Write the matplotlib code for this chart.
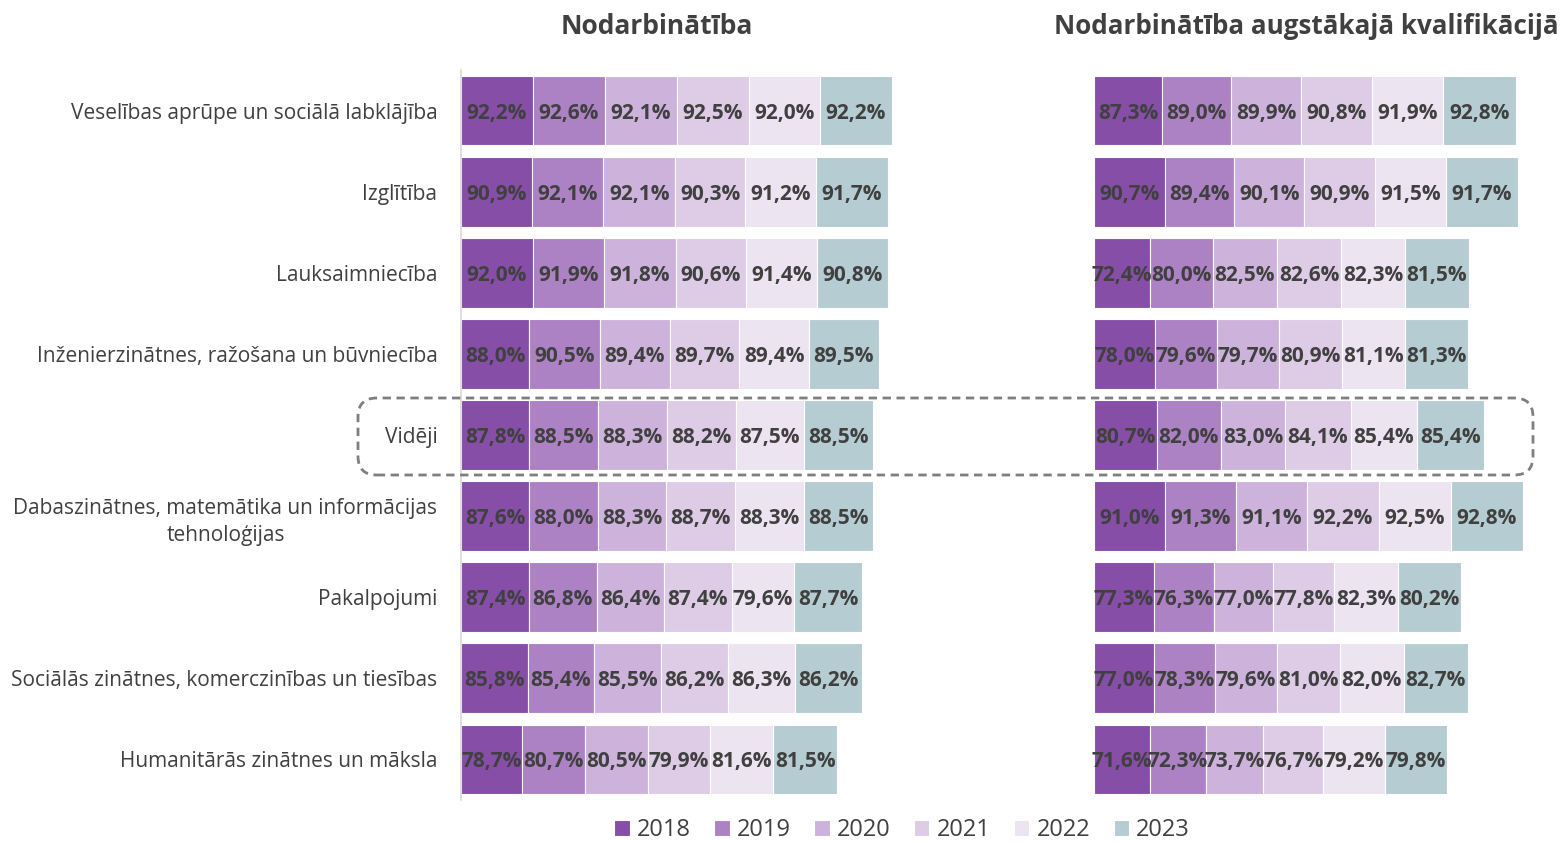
import matplotlib
matplotlib.use("Agg")
import matplotlib.pyplot as plt
from matplotlib.patches import FancyBboxPatch
import numpy as np

plt.rcParams['font.family'] = ['Open Sans', 'DejaVu Sans']

categories = [
    "Veselības aprūpe un sociālā labklājība",
    "Izglītība",
    "Lauksaimniecība",
    "Inženierzinātnes, ražošana un būvniecība",
    "Vidēji",
    "Dabaszinātnes, matemātika un informācijas\ntehnoloģijas",
    "Pakalpojumi",
    "Sociālās zinātnes, komerczinības un tiesības",
    "Humanitārās zinātnes un māksla",
]
years = ["2018", "2019", "2020", "2021", "2022", "2023"]

# Nodarbinātība (rows = categories, cols = years)
employment = [
    [92.2, 92.6, 92.1, 92.5, 92.0, 92.2],
    [90.9, 92.1, 92.1, 90.3, 91.2, 91.7],
    [92.0, 91.9, 91.8, 90.6, 91.4, 90.8],
    [88.0, 90.5, 89.4, 89.7, 89.4, 89.5],
    [87.8, 88.5, 88.3, 88.2, 87.5, 88.5],
    [87.6, 88.0, 88.3, 88.7, 88.3, 88.5],
    [87.4, 86.8, 86.4, 87.4, 79.6, 87.7],
    [85.8, 85.4, 85.5, 86.2, 86.3, 86.2],
    [78.7, 80.7, 80.5, 79.9, 81.6, 81.5],
]
# Nodarbinātība augstākajā kvalifikācijā
employment_hq = [
    [87.3, 89.0, 89.9, 90.8, 91.9, 92.8],
    [90.7, 89.4, 90.1, 90.9, 91.5, 91.7],
    [72.4, 80.0, 82.5, 82.6, 82.3, 81.5],
    [78.0, 79.6, 79.7, 80.9, 81.1, 81.3],
    [80.7, 82.0, 83.0, 84.1, 85.4, 85.4],
    [91.0, 91.3, 91.1, 92.2, 92.5, 92.8],
    [77.3, 76.3, 77.0, 77.8, 82.3, 80.2],
    [77.0, 78.3, 79.6, 81.0, 82.0, 82.7],
    [71.6, 72.3, 73.7, 76.7, 79.2, 79.8],
]

colors = ["#874EA8", "#AD82C4", "#CDB3DC", "#DECCE6", "#EDE4F2", "#B5CDD2"]
text_col = "#404040"

W, H = 1562, 842
fig = plt.figure(figsize=(W / 100, H / 100), dpi=100)

def fx(px):
    return px / W

def fy(py):
    return 1 - py / H

ax_top, ax_bot = 70, 800
ax_l = fig.add_axes([fx(461), fy(ax_bot), fx(467), (ax_bot - ax_top) / H])
ax_r = fig.add_axes([fx(1094), fy(ax_bot), fx(467), (ax_bot - ax_top) / H])

ypos = np.arange(len(categories))

for ax, data in [(ax_l, employment), (ax_r, employment_hq)]:
    arr = np.array(data)
    left = np.zeros(len(categories))
    for j, yr in enumerate(years):
        ax.barh(ypos, arr[:, j], left=left, height=0.86, color=colors[j],
                edgecolor="white", linewidth=0.8, label=yr)
        for i, v in enumerate(arr[:, j]):
            ax.text(left[i] + v / 2, ypos[i], f"{v:.1f}%".replace(".", ","),
                    ha="center", va="center_baseline", fontsize=15,
                    fontweight="bold", color=text_col)
        left += arr[:, j]
    ax.set_xlim(0, 600)
    ax.set_ylim(len(categories) - 0.5, -0.5)
    ax.set_xticks([])
    for s in ["top", "right", "bottom"]:
        ax.spines[s].set_visible(False)

ax_l.spines["left"].set_color("#D9D9D9")
ax_l.spines["left"].set_linewidth(1.2)
ax_l.set_yticks(ypos)
ax_l.set_yticklabels(categories, fontsize=15, color=text_col,
                     multialignment="center", linespacing=1.4)
ax_l.tick_params(axis="y", length=0, pad=17)
ax_r.spines["left"].set_visible(False)
ax_r.set_yticks([])

fig.text(fx(657), fy(26), "Nodarbinātība", ha="center", va="center",
         fontsize=19, fontweight="bold", color=text_col)
fig.text(fx(1306), fy(26), "Nodarbinātība augstākajā kvalifikācijā", ha="center",
         va="center", fontsize=18.7, fontweight="bold", color=text_col)

# dashed frame around the average row
box = FancyBboxPatch((fx(358), fy(475)), fx(1533 - 358), (475 - 398) / H,
                     boxstyle="round,pad=0,rounding_size=0.012",
                     transform=fig.transFigure, fill=False, edgecolor="#7F7F7F",
                     linestyle=(0, (3, 2)), linewidth=2, mutation_aspect=W / H)
fig.patches.append(box)

handles, labels = ax_l.get_legend_handles_labels()
fig.legend(handles, labels, loc="center", bbox_to_anchor=(fx(902), fy(830)), ncol=6,
           frameon=False, fontsize=17, handlelength=0.65, handleheight=0.65,
           handletextpad=0.3, columnspacing=1.0, labelcolor=text_col)

fig.savefig("out.png", dpi=100)
